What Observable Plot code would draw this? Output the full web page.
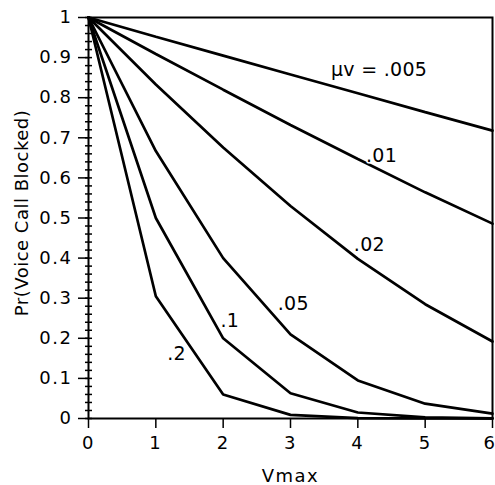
<!DOCTYPE html>
<html>
<head>
<meta charset="utf-8">
<script src="https://cdn.jsdelivr.net/npm/d3@7"></script>
<script src="https://cdn.jsdelivr.net/npm/@observablehq/plot@0.6"></script>
<style>
  html, body { margin: 0; padding: 0; background: #fff; }
</style>
</head>
<body>
<div id="chart"></div>
<script>
// Vmax values on the x axis
const vmax = [0, 1, 2, 3, 4, 5, 6];
// Pr(Voice Call Blocked) for each μv curve
const mu005 = [1, 0.952, 0.905, 0.858, 0.811, 0.764, 0.718];
const mu01  = [1, 0.909, 0.820, 0.732, 0.647, 0.564, 0.486];
const mu02  = [1, 0.833, 0.676, 0.530, 0.398, 0.285, 0.192];
const mu05  = [1, 0.667, 0.400, 0.210, 0.095, 0.037, 0.012];
const mu1   = [1, 0.500, 0.200, 0.063, 0.015, 0.003, 0.0005];
const mu2   = [1, 0.305, 0.060, 0.009, 0.001, 0.0001, 0];
const seriesNames = [".005", ".01", ".02", ".05", ".1", ".2"];
const seriesValues = [mu005, mu01, mu02, mu05, mu1, mu2];

// curve annotations
const labelText = ["\u03bcv = .005", ".01", ".02", ".05", ".1", ".2"];
const labelX = [3.6, 4.12, 3.94, 2.81, 1.96, 1.17];
const labelY = [0.87, 0.656, 0.434, 0.287, 0.244, 0.16];

// ticks and axis labels
const xTicks = [0, 1, 2, 3, 4, 5, 6];
const xLastTick = [6];
const yTicks = [0, 0.1, 0.2, 0.3, 0.4, 0.5, 0.6, 0.7, 0.8, 0.9, 1];
const yMinorTicks = d3.range(0, 51).map(i => i / 50);
const xLabel = "Vmax";
const yLabel = "Pr(Voice Call Blocked)";

const rows = [];
seriesNames.forEach((name, i) => {
  vmax.forEach((v, j) => rows.push({mu: name, vmax: v, p: seriesValues[i][j]}));
});
const labels = labelText.map((t, i) => ({t, x: labelX[i], y: labelY[i]}));
const fmt = d => String(+(+d).toFixed(2));

const chart = Plot.plot({
  width: 495,
  height: 485,
  marginLeft: 88,
  marginRight: 3,
  marginTop: 17,
  marginBottom: 67,
  style: {fontFamily: "DejaVu Sans", fontSize: "18px", color: "black", background: "white", letterSpacing: "1.5px"},
  x: {domain: [0, 6]},
  y: {domain: [0, 1]},
  marks: [
    Plot.axisY({ticks: yMinorTicks, tickSize: 7, dx: 4, tickFormat: () => "", label: null, strokeWidth: 1.5}),
    Plot.axisY({ticks: yTicks, tickSize: 10, tickPadding: 6, tickFormat: fmt, label: null, strokeWidth: 1.5}),
    Plot.axisX({ticks: xTicks, tickSize: 10, tickPadding: 8, tickFormat: d => (d === 6 ? "" : fmt(d)), label: null, strokeWidth: 1.5}),
    Plot.axisX({ticks: xLastTick, tickSize: 0, tickPadding: 18, tickFormat: fmt, textAnchor: "end", dx: 4, label: null}),
    Plot.frame({stroke: "black", strokeWidth: 2}),
    Plot.line(rows, {x: "vmax", y: "p", z: "mu", stroke: "black", strokeWidth: 2.7, strokeLinejoin: "miter"}),
    Plot.text(labels, {x: "x", y: "y", text: "t", textAnchor: "start", fontSize: 19, fill: "black", stroke: "white", strokeWidth: 3, paintOrder: "stroke", className: "curve-label"}),
    Plot.text([xLabel], {frameAnchor: "bottom", textAnchor: "middle", lineAnchor: "middle", dy: 58, fontSize: 18, fill: "black"}),
    Plot.text([yLabel], {frameAnchor: "left", textAnchor: "middle", lineAnchor: "middle", dx: -66, dy: -5, rotate: -90, fontSize: 18, fill: "black", className: "y-label"})
  ]
});
d3.select(chart).selectAll(".curve-label text, .curve-label").style("letter-spacing", "0.3px");
d3.select(chart).selectAll(".y-label text, .y-label").style("letter-spacing", "0.5px");
document.getElementById("chart").appendChild(chart);
</script>
</body>
</html>
